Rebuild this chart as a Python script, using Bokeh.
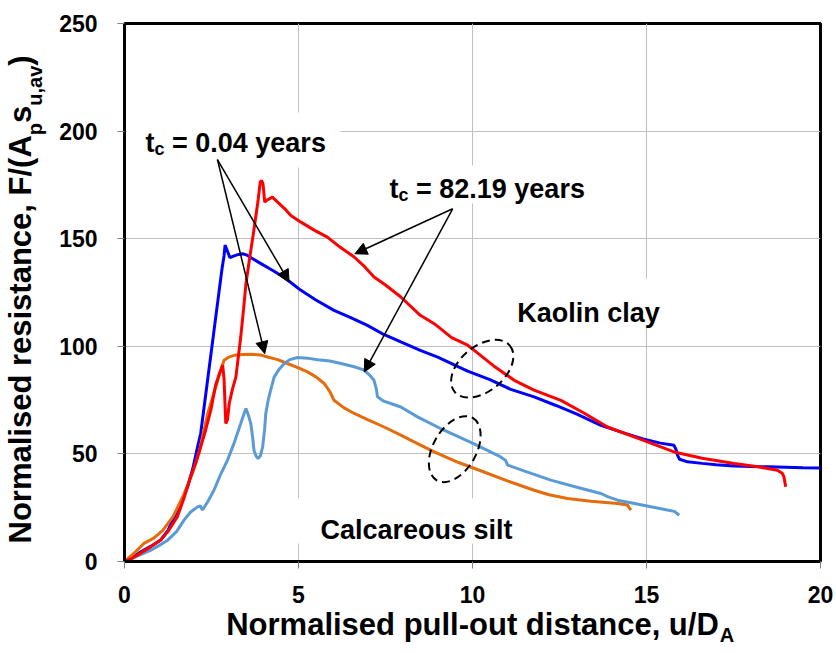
import math
from bokeh.plotting import figure
from bokeh.models import (Range1d, FixedTicker, Label, Arrow, NormalHead, BoxAnnotation,
                          LinearAxis, CustomJSTickFormatter)
from bokeh.embed import file_html
from bokeh.resources import INLINE

# ---------------- data ----------------
kaolin_004_x = [0, 0.2, 0.47, 0.75, 1.04, 1.25, 1.43, 1.62, 1.81, 1.96, 2.1, 2.19, 2.3, 2.39,
                2.5, 2.6, 2.7, 2.8, 2.86, 2.89, 2.94, 3.03, 3.15, 3.28, 3.39, 3.5, 3.65, 3.92,
                4.2, 4.49, 4.75, 5.07, 5.5, 6.02, 6.5, 6.98, 7.45, 7.94, 8.5, 9.0, 9.86, 10.5,
                11.1, 11.77, 12.4, 13.0, 13.69, 14.3, 14.9, 15.4, 15.79, 15.85, 15.89, 15.95,
                16.18, 16.6, 17.0, 17.52, 18.0, 18.5, 19.0, 19.5, 20.0]
kaolin_004_y = [0, 1.5, 4.5, 7, 10, 14.5, 20.8, 27, 34.7, 43, 53.3, 59.6, 73.3, 84.6,
                98.3, 110.8, 123.3, 135.8, 142, 147, 145, 141.2, 142, 142.7, 143, 142.5, 141, 138.4,
                135.8, 133, 130, 126, 121.5, 116.7, 113.3, 109.7, 105.5, 102, 98.1, 95, 88.5, 84.5,
                80, 76.5, 72.5, 68.5, 63.3, 60, 57, 55, 54, 52, 49.4, 47.5,
                46.3, 45.6, 45, 44.4, 44.2, 44, 43.8, 43.6, 43.5]

kaolin_8219_x = [0, 0.2, 0.47, 0.75, 1.04, 1.25, 1.52, 1.7, 1.9, 2.05, 2.19, 2.33, 2.48, 2.62,
                 2.72, 2.82, 2.86, 2.91, 2.96, 3.01, 3.1, 3.2, 3.27, 3.34, 3.42, 3.49, 3.56, 3.63,
                 3.7, 3.77, 3.84, 3.9, 3.94, 3.98, 4.03, 4.1, 4.25, 4.4, 4.6, 4.78, 5.07, 5.45,
                 5.83, 6.2, 6.6, 6.9, 7.17, 7.5, 7.94, 8.5, 8.9, 9.4, 9.86, 10.05, 10.6, 11.2,
                 11.77, 12.54, 13.2, 13.88, 14.8, 15.79, 16.6, 17.52, 18.2, 18.76, 18.9, 18.95, 19.0]
kaolin_8219_y = [0, 1.3, 4, 6.8, 10, 14, 20.8, 29, 39.3, 46, 53.3, 61, 70.3, 82,
                 87, 91.2, 85, 64.1, 66, 73.4, 80, 85.7, 95, 104.3, 117, 129.1, 137, 144.6,
                 152, 160, 168, 176.3, 177, 175.5, 167, 168, 169.3, 167, 164, 160.8, 157.7, 154,
                 150.7, 146, 141.5, 137, 132.2, 128.5, 122.9, 114.4, 110.5, 104, 100.5, 98.1, 91, 84.2,
                 79.6, 74.9, 69, 62.5, 57, 50.9, 48, 45.5, 44, 42.4, 41, 39.3, 34.7]

silt_004_x = [0, 0.25, 0.56, 0.85, 1.1, 1.4, 1.7, 1.95, 2.15, 2.39, 2.62, 2.75, 2.86, 3.0,
              3.15, 3.4, 3.63, 3.9, 4.11, 4.4, 4.68, 5.0, 5.26, 5.5, 5.74, 5.9, 6.02, 6.3,
              6.6, 7.0, 7.46, 7.94, 8.42, 8.9, 9.6, 10.33, 11.0, 11.77, 12.2, 12.73, 13.4,
              14.17, 14.45, 14.55]
silt_004_y = [0, 3.5, 8.4, 11, 14.5, 21, 31, 41, 51, 68.7, 81, 88, 93.5, 95,
              95.8, 96.2, 96.3, 96, 95, 93.8, 92, 90, 88.1, 85.8, 82.7, 79, 74.9, 71.5,
              68.8, 65.8, 62.5, 58.7, 54.8, 50.9, 46, 41.6, 37.5, 33.1, 31, 29.3, 28,
              27, 26.3, 23.9]

silt_8219_x = [0, 0.3, 0.76, 1.0, 1.24, 1.5, 1.71, 1.9, 2.1, 2.18, 2.24, 2.4, 2.57, 2.75,
               2.96, 3.15, 3.34, 3.42, 3.49, 3.56, 3.63, 3.68, 3.72, 3.78, 3.84, 3.9, 3.97,
               4.03, 4.06, 4.13, 4.2, 4.3, 4.45, 4.59, 4.75, 4.97, 5.25, 5.55, 5.9, 6.22, 6.6,
               6.89, 7.05, 7.17, 7.24, 7.27, 7.45, 7.65, 7.94, 8.42, 9.18, 10.0, 10.81, 10.95,
               11.01, 11.5, 12.25, 13.0, 13.69, 13.9, 14.17, 14.8, 15.6, 15.8, 15.94]
silt_8219_y = [0, 2, 5.3, 7.5, 9.9, 14, 19.2, 23, 25.4, 25.8, 23.9, 28, 33.1, 40,
               47.1, 55, 64.1, 68, 71.1, 68, 64.1, 58, 51.7, 49, 47.9, 49, 53.3,
               62, 68.8, 75, 79.6, 85.7, 89.5, 92, 93.8, 94.8, 94.5, 93.8, 93.2, 92, 90.5,
               88.9, 86.5, 84.2, 80, 76.5, 74.5, 73.4, 71.8, 67.2, 61, 55, 48.6, 47,
               44.8, 42, 37.8, 34.5, 31.6, 30, 28.5, 26.5, 23.9, 23.3, 21.5]

x_ticks = [0, 5, 10, 15, 20]
y_ticks = [0, 50, 100, 150, 200, 250]

# ---------------- layout ----------------
W, H = 836, 653
FL, FR, FT, FB = 124, 820, 23, 561
XMAX, YMAX = 20, 250
FONT = "Liberation Sans"

p = figure(width=W, height=H, x_range=Range1d(0, XMAX), y_range=Range1d(0, YMAX),
           output_backend="svg", toolbar_location=None,
           min_border_left=FL, min_border_right=W - FR,
           min_border_top=FT, min_border_bottom=H - FB)
p.background_fill_color = "white"
p.border_fill_color = "white"
p.outline_line_color = "black"
p.outline_line_width = 3

for ax in (p.xaxis[0], p.yaxis[0]):
    ax.axis_line_color = "black"
    ax.axis_line_width = 3
    ax.major_tick_in = 0
    ax.major_tick_out = 7
    ax.major_tick_line_color = "#808080"
    ax.major_tick_line_width = 1
    ax.minor_tick_line_color = None
    ax.major_label_text_font = FONT
    ax.major_label_text_font_style = "bold"
    ax.major_label_text_font_size = "23px"
    ax.major_label_text_color = "black"
    ax.axis_label_text_font = FONT
    ax.axis_label_text_font_style = "bold"
    ax.axis_label_text_color = "black"
p.xaxis[0].ticker = FixedTicker(ticks=x_ticks)
p.yaxis[0].ticker = FixedTicker(ticks=y_ticks)
p.xaxis[0].major_label_standoff = 17
p.yaxis[0].major_label_standoff = 20

p.xgrid[0].ticker = FixedTicker(ticks=x_ticks)
p.ygrid[0].ticker = FixedTicker(ticks=y_ticks)
for g in (p.xgrid[0], p.ygrid[0]):
    g.grid_line_color = "#c0c0c0"
    g.grid_line_width = 1


def X(px):
    return (px - FL) / (FR - FL) * XMAX


def Y(py):
    return (FB - py) / (FB - FT) * YMAX


WID = {' ': 278, '(': 333, ')': 333, ',': 278, '-': 333, '.': 278, '/': 278, '=': 584,
       'A': 722, 'C': 722, 'D': 722, 'F': 611, 'K': 722, 'N': 722, 'a': 556, 'c': 556,
       'd': 611, 'e': 556, 'i': 278, 'l': 278, 'm': 889, 'n': 611, 'o': 611, 'p': 611,
       'r': 389, 's': 556, 't': 333, 'u': 611, 'v': 556, 'y': 556}


def tw(s, size):
    return sum(WID.get(ch, 556) for ch in s) / 1000.0 * size


# white boxes behind the annotation texts (they hide the grid)
for (l, r, t, b) in [(126, 340, 112, 167), (378, 596, 165, 203),
                     (505, 668, 278, 327), (290, 530, 498, 543)]:
    p.add_layout(BoxAnnotation(left=X(l), right=X(r), top=Y(t), bottom=Y(b),
                               fill_color="white", fill_alpha=1, line_color=None))

# curves
p.line(kaolin_004_x, kaolin_004_y, line_color="#0000FF", line_width=3)
p.line(silt_004_x, silt_004_y, line_color="#E46C0A", line_width=3)
p.line(silt_8219_x, silt_8219_y, line_color="#5B9BD5", line_width=3)
p.line(kaolin_8219_x, kaolin_8219_y, line_color="#FF0000", line_width=3)

# dashed ellipses (annotation)
ell_x = [10.28, 9.49]
ell_y = [89.6, 52.2]
p.ellipse(x=ell_x, y=ell_y, width=[72, 72], height=[45, 43],
          angle=[math.radians(40), math.radians(60)],
          width_units="screen", height_units="screen",
          fill_color=None, line_color="black", line_width=2, line_dash="8 5")

# arrows
arrow_sets = [((2.67, 186.8), [(4.73, 129.9), (4.03, 96.6)]),
              ((9.43, 163.9), [(6.62, 143.0), (6.89, 88.1)])]
for (x0, y0), targets in arrow_sets:
    for (x1, y1) in targets:
        p.add_layout(Arrow(end=NormalHead(size=12, fill_color="black", line_color="black"),
                           x_start=x0, y_start=y0, x_end=x1, y_end=y1,
                           line_color="black", line_width=1.5))


def rich(segs, px, py):
    for txt, size, dy in segs:
        stripped = txt.lstrip(" ")
        px += tw(txt[:len(txt) - len(stripped)], size)
        lbl = Label(x=X(px), y=Y(py + dy), text=stripped)
        px += tw(stripped, size)
        lbl.text_font = FONT
        lbl.text_font_style = "bold"
        lbl.text_font_size = "%gpx" % size
        lbl.text_color = "black"
        lbl.text_align = "left"
        lbl.text_baseline = "alphabetic"
        p.add_layout(lbl)


T, S = 27, 18
rich([("t", T, 0), ("c", S, 6), (" = 0.04 years", T, 0)], 145, 142.7)
rich([("t", T, 0), ("c", S, 6), (" = 82.19 years", T, 0)], 389, 188.3)
rich([("Kaolin clay", T, 0)], 516.7, 312.7)
rich([("Calcareous silt", T, 0)], 320, 529.3)

# ---------------- axis titles (built from axis labels, with subscripts) ----------------
A, AS = 31, 20
x_title = "Normalised pull-out distance, u/D"
x_sub = "A"
p.xaxis[0].axis_label = x_title
p.xaxis[0].axis_label_text_font_size = "%dpx" % A
p.xaxis[0].axis_label_standoff = 1

x_title_right = (FL + FR) / 2 + tw(x_title, A) / 2
sub_ax = LinearAxis(ticker=FixedTicker(ticks=[X(x_title_right + 1 + tw(x_sub, AS) / 2)]),
                    formatter=CustomJSTickFormatter(args=dict(labels=[x_sub]),
                                                    code="return labels[0];"))
sub_ax.axis_line_color = None
sub_ax.major_tick_line_color = None
sub_ax.minor_tick_line_color = None
sub_ax.major_tick_out = 0
sub_ax.major_tick_in = 0
sub_ax.major_label_standoff = -21
sub_ax.major_label_text_font = FONT
sub_ax.major_label_text_font_style = "bold"
sub_ax.major_label_text_font_size = "%dpx" % AS
sub_ax.major_label_text_color = "black"
p.add_layout(sub_ax, "below")

# y title pieces laid out bottom -> top along the left side
y_pieces = [("Normalised resistance, F/(A", A), ("p", AS), ("s", A), ("u,av", AS), (")", A)]
start = 543.0
main_t, main_l, sub_t, sub_l = [], [], [], []
for txt, size in y_pieces:
    w = tw(txt, size)
    centre = Y(start - w / 2)
    if size == A:
        main_t.append(centre)
        main_l.append(txt)
    else:
        sub_t.append(centre)
        sub_l.append(txt)
    start -= w


def title_axis(ticks, labels, size, standoff):
    ax = LinearAxis(ticker=FixedTicker(ticks=ticks),
                    formatter=CustomJSTickFormatter(args=dict(labels=labels),
                                                    code="return labels[index];"))
    ax.axis_line_color = None
    ax.major_tick_line_color = None
    ax.minor_tick_line_color = None
    ax.major_tick_out = 0
    ax.major_tick_in = 0
    ax.major_label_standoff = standoff
    ax.major_label_orientation = "parallel"
    ax.major_label_text_font = FONT
    ax.major_label_text_font_style = "bold"
    ax.major_label_text_font_size = "%dpx" % size
    ax.major_label_text_color = "black"
    return ax


p.add_layout(title_axis(sub_t, sub_l, AS, 10), "left")
p.add_layout(title_axis(main_t, main_l, A, -17), "left")

open("out.html", "w").write(file_html(p, INLINE))
